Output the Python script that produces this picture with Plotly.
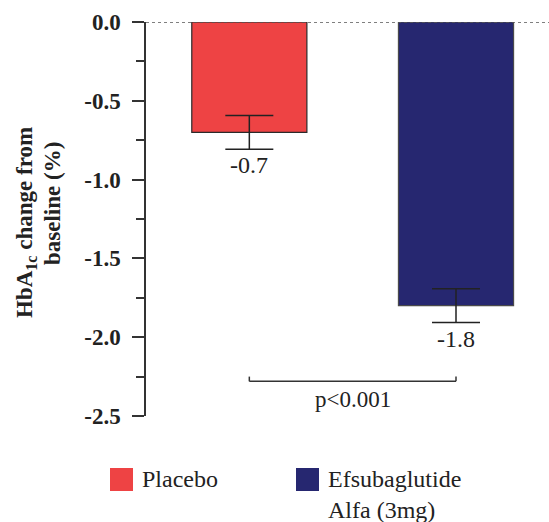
import plotly.graph_objects as go

# Treatment groups and HbA1c change from baseline (%)
groups = ["Placebo", "Efsubaglutide Alfa (3mg)"]
legend_labels = ["Placebo", "Efsubaglutide<br>Alfa (3mg)"]
changes = [-0.7, -1.8]
errors = [0.107, 0.107]
value_labels = ["-0.7", "-1.8"]
bar_colors = ["#EE4344", "#262770"]
edge_colors = ["#2a2a2a", "#4a4a4a"]
p_value_text = "p<0.001"
y_ticks = [0.0, -0.5, -1.0, -1.5, -2.0, -2.5]
y_tick_text = ["0.0", "-0.5", "-1.0", "-1.5", "-2.0", "-2.5"]
y_title_lines = ["<b>HbA<sub>1c</sub> change from</b>", "<b>baseline (%)</b>"]

W, H = 549, 522
ML, MR, MT, MB = 146, 0, 22, 106
PW, PH = W - ML - MR, H - MT - MB


def px_x(px):
    return (px - ML) / PW


def px_y(py):
    return (H - MB - py) / PH


SERIF = "Liberation Serif"
xpos = list(range(len(groups)))

fig = go.Figure()
fig.add_trace(go.Bar(
    x=xpos,
    y=changes,
    width=0.557,
    marker=dict(color=bar_colors, line=dict(color=edge_colors, width=1.2)),
    error_y=dict(type="data", array=errors, visible=True,
                 color="#222222", thickness=1.5, width=24),
    showlegend=False,
    hoverinfo="skip",
))

annotations = []
# value labels under each error bar
for xi, v, e, lab in zip(xpos, changes, errors, value_labels):
    annotations.append(dict(
        x=xi, y=v - e, xref="x", yref="y", text=lab, showarrow=False,
        yanchor="top", xanchor="center", yshift=-1,
        font=dict(family=SERIF, size=24, color="#222222"),
    ))

# significance bracket between the two groups
bracket_y = -2.28
bracket_tick = 0.03
shapes = [
    dict(type="line", xref="paper", yref="y", x0=0, x1=1, y0=0, y1=0,
         line=dict(color="#555555", width=1.5, dash="dot"), layer="above"),
    dict(type="line", xref="x", yref="y", x0=xpos[0], x1=xpos[1],
         y0=bracket_y, y1=bracket_y, line=dict(color="#333333", width=1.5)),
    dict(type="line", xref="x", yref="y", x0=xpos[0], x1=xpos[0],
         y0=bracket_y, y1=bracket_y + bracket_tick, line=dict(color="#333333", width=1.5)),
    dict(type="line", xref="x", yref="y", x0=xpos[1], x1=xpos[1],
         y0=bracket_y, y1=bracket_y + bracket_tick, line=dict(color="#333333", width=1.5)),
]
annotations.append(dict(
    x=(xpos[0] + xpos[1]) / 2, y=bracket_y, xref="x", yref="y", text=p_value_text,
    showarrow=False, yanchor="top", xanchor="center", yshift=-4,
    font=dict(family=SERIF, size=23, color="#222222"),
))

# y-axis title, two rotated lines
for cx, cy, line in zip([26, 52], [223, 204], y_title_lines):
    annotations.append(dict(
        x=px_x(cx), y=px_y(cy), xref="paper", yref="paper", textangle=-90,
        text=line, showarrow=False, xanchor="center", yanchor="middle",
        font=dict(family=SERIF, size=23, color="#222222"),
    ))

# legend: coloured squares with labels
legend_x = [110, 296]
sq = 23
sq_top = 468
for lx, col, lab in zip(legend_x, bar_colors, legend_labels):
    shapes.append(dict(type="rect", xref="paper", yref="paper",
                       x0=px_x(lx), x1=px_x(lx + sq), y0=px_y(sq_top + sq), y1=px_y(sq_top),
                       fillcolor=col, line=dict(width=0)))
    annotations.append(dict(
        x=px_x(lx + sq + 7), y=px_y(sq_top - 4), xref="paper", yref="paper",
        text=lab, showarrow=False, xanchor="left", yanchor="top", align="left",
        font=dict(family=SERIF, size=24, color="#222222"),
    ))

fig.update_layout(
    width=W, height=H,
    margin=dict(l=ML, r=MR, t=MT, b=MB),
    paper_bgcolor="white", plot_bgcolor="white",
    xaxis=dict(range=[-0.5, 1.45], visible=False),
    yaxis=dict(
        range=[-2.5, 0], tickvals=y_ticks, ticktext=y_tick_text,
        ticks="outside", ticklen=12, tickwidth=1.5, tickcolor="#333333",
        ticklabelstandoff=7,
        showline=True, linecolor="#333333", linewidth=1.5,
        showgrid=False, zeroline=False,
        tickfont=dict(family=SERIF, size=23, color="#222222", weight="bold"),
        minor=dict(dtick=0.25, ticks="outside", ticklen=8, tickwidth=1.5,
                   tickcolor="#333333", showgrid=False),
    ),
    shapes=shapes,
    annotations=annotations,
)

fig.write_html("out.html")
